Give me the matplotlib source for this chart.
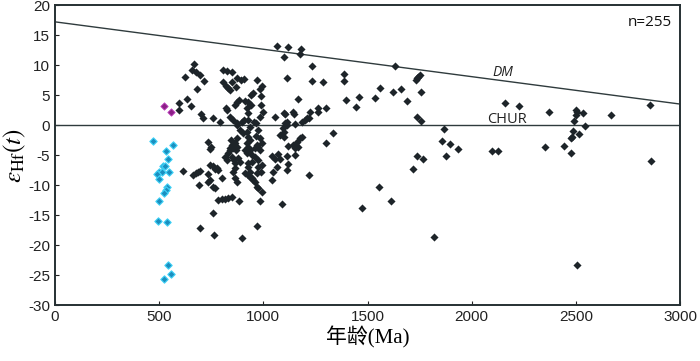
import matplotlib
matplotlib.use("Agg")
import matplotlib.pyplot as plt

plt.rcParams["mathtext.fontset"] = "stix"
plt.rcParams["axes.unicode_minus"] = False

# zircon ages (Ma) and eHf(t)
black_age = [
    669, 656, 677, 624, 696, 715, 683, 808, 827, 848, 805, 821, 832, 840, 850, 869,
    632, 651, 597, 594, 699, 709, 757, 792, 821, 827, 840, 872,
    875, 891, 907, 968, 952, 941, 992, 875, 885, 912, 928, 939, 864, 920, 928,
    989, 1000, 984, 853, 872, 896, 907, 928, 936, 955, 965, 984, 989,
    1064, 1120, 1181, 1176, 1101, 1232, 1115, 1235, 1285, 1168, 1301, 1264, 1224,
    1144, 1099, 1112, 1104, 1056, 1200, 1208, 1184, 1152, 1104, 1149, 1219, 1261,
    736, 747, 843, 872, 864, 840, 744, 848, 856, 869, 875,
    888, 904, 920, 928, 936, 920, 912, 965, 976, 984, 968, 992, 984,
    960, 944, 928, 976, 992, 936, 968, 840, 816, 848, 824,
    616, 664, 677, 688, 696, 693, 744, 757, 776, 784, 768,
    736, 744, 757, 768, 736, 800, 832, 859, 864, 864, 856, 864, 872,
    784, 800, 816, 832, 848, 883, 757, 696, 763,
    928, 936, 960, 976, 920, 944, 880, 888, 928, 976, 989,
    912, 925, 936, 944, 952, 960, 968, 976, 992, 984, 968, 899,
    1096, 1112, 1099, 1176, 1184, 1160, 1144, 1168, 1040, 1056, 1072, 1080,
    1112, 1152, 1064, 1112, 1301, 1219, 1336, 1048, 1040, 1117, 1152, 1120,
    1088, 1080, 1101,
    1389, 1389, 1397, 1443, 1461, 1536, 1560, 1624, 1659, 1632, 1688, 1733, 1736,
    1744, 1752, 1755, 1736, 1755,
    1475, 1557, 1611, 1717, 1739, 1765, 1869, 1856, 1896, 1936, 1875, 2096, 2128, 1819,
    2160, 2229, 2373, 2352, 2443, 2475, 2475, 2480, 2485, 2515, 2491, 2501, 2504,
    2501, 2536, 2544, 2667, 2856, 2859, 2507,
]
black_ehf = [
    10.2, 9.2, 8.9, 8.05, 8.4, 7.4, 6.0, 9.2, 9.05, 8.8, 7.1, 6.55, 6.1, 5.8, 7.2, 6.4,
    4.3, 3.2, 3.6, 2.5, 1.8, 1.2, 1.2, 0.55, 2.9, 2.5, 1.4, 0.0,
    7.8, 7.5, 7.6, 7.5, 5.4, 5.0, 6.5, 3.9, 4.2, 4.05, 3.9, 3.3, 3.3, 2.8, 1.95,
    3.3, 2.2, 1.4, 0.8, 0.3, 0.55, 0.8, 0.8, -0.3, 0.55, 0.3, 5.95, 4.8,
    13.2, 12.95, 12.7, 11.8, 11.4, 9.9, 7.8, 7.3, 7.2, 4.3, 2.8, 2.2, 2.2,
    2.2, 1.95, 0.55, 0.3, 1.4, 0.8, 1.1, 0.55, 0.2, 1.8, 1.8, 1.1, 2.8,
    -2.9, -3.6, -2.5, -2.2, -3.05, -3.8, -4.0, -3.3, -3.9, -4.2, -3.6,
    -0.8, -1.4, -1.1, -1.95, -2.5, -3.05, -4.2, -1.8, -0.8, -2.2, -3.3, -3.05, -4.2,
    -5.3, -6.1, -6.95, -5.8, -6.7, -7.8, -8.05, -4.2, -5.3, -5.3, -5.8,
    -7.6, -8.3, -8.05, -7.8, -7.7, -10.0, -6.7, -6.9, -7.1, -7.5, -7.3,
    -8.2, -9.2, -10.3, -10.55, -9.45, -8.8, -4.7, -5.8, -6.4, -7.1, -7.8, -8.9, -9.45,
    -12.5, -12.4, -12.3, -12.1, -11.95, -12.7, -14.7, -17.1, -18.3,
    -3.6, -4.2, -3.8, -3.6, -4.7, -5.0, -5.55, -6.1, -6.4, -6.95, -7.8,
    -8.05, -8.3, -8.6, -8.9, -9.2, -9.45, -10.3, -10.55, -11.1, -12.7, -16.9, -18.9,
    -0.55, 0.0, -1.1, -2.2, -1.95, -2.8, -3.3, -3.6, -5.2, -5.6, -4.8, -5.6,
    -5.2, -5.0, -6.95, -7.5, -2.95, -8.3, -1.4, -7.8, -9.2, -6.5, -3.9, -3.5,
    -13.2, -1.7, -2.05,
    8.5, 7.4, 4.2, 2.95, 4.7, 4.45, 6.2, 5.55, 5.95, 9.8, 4.0, 7.5, 7.8,
    8.05, 8.3, 5.55, 1.4, 0.7,
    -13.8, -10.3, -12.6, -7.3, -5.2, -5.7, -0.7, -2.7, -3.2, -4.05, -5.2, -4.3, -4.4, -18.7,
    3.6, 3.2, 2.2, -3.6, -3.45, -4.6, -2.2, -2.05, -1.0, -1.5, 0.7, 1.7, 2.2,
    2.5, 2.05, -0.1, 1.7, 3.3, -6.0, -23.4,
]

cyan_age = [472, 566, 534, 544, 517, 529, 501, 514, 547, 491, 499, 536, 533, 525,
            501, 496, 538, 544, 557, 523]
cyan_ehf = [-2.6, -3.3, -4.4, -5.7, -6.8, -6.8, -7.9, -7.9, -7.8, -8.2, -9.05, -10.3,
            -10.8, -11.4, -12.6, -16.0, -16.2, -23.3, -24.8, -25.7]

magenta_age = [525, 557]
magenta_ehf = [3.2, 2.2]

dm_age = [0, 3000]
dm_ehf = [17.2, 3.5]
chur_age = [0, 3000]
chur_ehf = [0, 0]

line_col = "#2f3b3d"

fig = plt.figure(figsize=(7, 3.61), dpi=100)
ax = fig.add_axes([0.0786, 0.155, 0.8928, 0.831])

ax.plot(dm_age, dm_ehf, color=line_col, lw=1.0)
ax.plot(chur_age, chur_ehf, color=line_col, lw=1.0)

ax.scatter(black_age, black_ehf, marker="D", s=17, color="#1d2429", linewidths=0, zorder=3)
ax.scatter(cyan_age, cyan_ehf, marker="D", s=14, color="#1a8fc0", edgecolors="#40d2f7",
           linewidths=0.8, zorder=3)
ax.scatter(magenta_age, magenta_ehf, marker="D", s=14, color="#8a1f86", edgecolors="#c040c0",
           linewidths=0.6, zorder=3)

ax.text(2100, 8.1, "DM", fontsize=10, style="italic", family="Open Sans", color="#222")
ax.text(2075, 0.4, "CHUR", fontsize=10.5, family="Open Sans", color="#222")
ax.text(2960, 16.5, "n=255", fontsize=11, family="Open Sans", ha="right", color="#111")

ax.set_xlim(0, 3000)
ax.set_ylim(-30, 20)
ax.set_xticks(range(0, 3001, 500))
ax.set_yticks(range(-30, 21, 5))
ax.tick_params(direction="in", length=3, width=0.8, labelsize=11, colors="#222")
for lab in ax.get_xticklabels() + ax.get_yticklabels():
    lab.set_family("Liberation Sans")
for sp in ax.spines.values():
    sp.set_linewidth(1.4)
    sp.set_color("#263033")

ax.set_ylabel(r"$\varepsilon_{\mathrm{Hf}}(t)$", fontsize=18, labelpad=0)
ax.set_xlabel("年龄(Ma)", fontsize=15, family=["Liberation Serif", "Noto Sans CJK SC"], labelpad=2)

fig.savefig("out.png", dpi=100)
